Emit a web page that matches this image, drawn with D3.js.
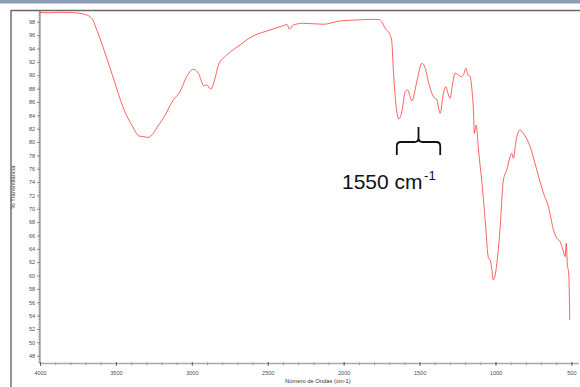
<!DOCTYPE html>
<html>
<head>
<meta charset="utf-8">
<script src="https://cdn.jsdelivr.net/npm/d3@7"></script>
<style>
  html, body { margin: 0; padding: 0; background: #fff; }
  svg { display: block; }
  .tick text { font-family: "Liberation Sans", Arial, sans-serif; }
</style>
</head>
<body>
<svg id="chart" width="580" height="387"></svg>
<script>
// FTIR spectrum: wavenumber (cm-1) and % transmittance
const wavenumbers = [4000,3934,3868,3802,3736,3704,3671,3650,3638,3583,3517,3451,3385,3352,3319,3287,3254,3223,3188,3122,3078,3034,2990,2957,2920,2902,2875,2847,2825,2770,2682,2617,2485,2397,2373,2358,2331,2265,2134,2024,1914,1804,1767,1749,1727,1694,1683,1672,1650,1635,1617,1595,1578,1551,1518,1485,1463,1442,1409,1386,1364,1343,1327,1310,1299,1284,1266,1244,1226,1211,1195,1182,1167,1156,1144,1140,1127,1112,1089,1068,1046,1035,1025,1014,1002,991,969,948,926,904,893,882,864,838,816,772,728,684,651,618,596,574,556,541,534,526,520,513,511];
const transmittance = [99.39,99.35,99.42,99.38,99.27,99.09,98.76,98.2,97.52,94.08,89.58,85.09,82.10,80.94,80.79,80.70,81.30,82.40,83.55,86.29,87.53,89.78,90.89,90.29,88.39,88.54,87.94,89.54,91.53,93.03,94.53,95.62,96.77,97.42,97.60,96.92,97.52,97.78,97.63,98.12,98.27,98.37,98.34,98.01,97.03,96.02,95.02,90.53,84.54,83.45,84.54,87.53,87.79,86.14,89.03,91.79,91.04,89.03,86.78,86.29,84.30,87.29,88.28,87.04,86.54,88.53,90.29,90.04,89.78,90.04,91.04,90.04,89.78,88.04,84.04,81.30,82.54,78.80,73.82,68.32,62.59,62.33,61.13,59.34,60.08,61.84,67.32,74.31,75.81,77.80,78.31,77.56,80.30,81.80,81.30,79.30,75.81,72.32,70.31,66.82,65.58,65.07,63.83,62.83,64.83,61.33,60.84,56.35,53.35];

const xMajor = d3.range(4000, 499, -500);
const xMinor = d3.range(4000, 499, -100);
const yMajor = d3.range(48, 99, 2);
const yMinor = d3.range(47, 99.7, 0.25);

const annotation = { from: 1650, to: 1364, label: "1550 cm", sup: "-1" };
const xTitle = "Número de Ondas (cm-1)";
const yTitle = "% Transmitancia";

const svg = d3.select("#chart");
const W = 580, H = 387;

// window chrome: top band, frame lines
svg.append("rect").attr("x", 0).attr("y", 0).attr("width", W).attr("height", 3.5).attr("fill", "#8a9cb6");
svg.append("line").attr("x1", 11).attr("x2", W).attr("y1", 10.5).attr("y2", 10.5)
  .attr("stroke", "#666").attr("stroke-width", 1.6);
svg.append("line").attr("x1", 11).attr("x2", 11).attr("y1", 10).attr("y2", H)
  .attr("stroke", "#666").attr("stroke-width", 1.4);

const x = d3.scaleLinear().domain([4000, 450]).range([40, 579]);
const y = d3.scaleLinear().domain([46.83, 99.69]).range([363.5, 10.5]);

// y axis: minor ticks then labelled major ticks
const yMinorG = svg.append("g").attr("transform", "translate(40,0)")
  .call(d3.axisLeft(y).tickValues(yMinor).tickSize(1.6).tickFormat(""));
yMinorG.select(".domain").remove();
yMinorG.selectAll("line").attr("stroke", "#777").attr("stroke-width", 0.6);

const yAxisG = svg.append("g").attr("transform", "translate(40,0)")
  .call(d3.axisLeft(y).tickValues(yMajor).tickSize(3).tickPadding(2).tickFormat(d3.format("d")));
yAxisG.select(".domain").attr("d", `M0,${y.range()[1]}V${y.range()[0]}`).attr("stroke", "#777").attr("stroke-width", 1);
yAxisG.selectAll("line").attr("stroke", "#666").attr("stroke-width", 0.7);
yAxisG.selectAll("text").attr("font-size", 5.5).attr("fill", "#4a4a5a");

// x axis
const xMinorG = svg.append("g").attr("transform", "translate(0,363.5)")
  .call(d3.axisBottom(x).tickValues(xMinor).tickSize(1.5).tickFormat(""));
xMinorG.select(".domain").remove();
xMinorG.selectAll("line").attr("stroke", "#555").attr("stroke-width", 0.8).attr("y1", -1);

const xAxisG = svg.append("g").attr("transform", "translate(0,363.5)")
  .call(d3.axisBottom(x).tickValues(xMajor).tickSize(2.5).tickPadding(5).tickFormat(d3.format("d")));
xAxisG.select(".domain").attr("d", `M${x.range()[0]},0H${x.range()[1]}`).attr("stroke", "#aaa").attr("stroke-width", 1.6);
xAxisG.selectAll("line").attr("stroke", "#555").attr("stroke-width", 0.8).attr("y1", -1.5);
xAxisG.selectAll("text").attr("font-size", 5.5).attr("fill", "#4a4a5a");

// axis titles
svg.append("text").attr("x", 285).attr("y", 383)
  .attr("font-family", "Liberation Sans, Arial, sans-serif").attr("font-size", 5.8).attr("fill", "#333")
  .text(xTitle);
svg.append("text").attr("transform", "translate(15,187) rotate(-90)").attr("text-anchor", "middle")
  .attr("font-family", "Liberation Sans, Arial, sans-serif").attr("font-size", 5.8).attr("fill", "#333")
  .text(yTitle);

// spectrum
const pts = wavenumbers.map((w, i) => [w, transmittance[i]]);
const line = d3.line().x(d => x(d[0])).y(d => y(d[1])).curve(d3.curveMonotoneX);
svg.append("path").datum(pts).attr("d", line)
  .attr("fill", "none").attr("stroke", "#ff2424").attr("stroke-width", 0.9).attr("stroke-opacity", 0.8);

// brace over the amide band
const bx0 = x(annotation.from), bx1 = x(annotation.to), bm = (bx0 + bx1) / 2;
const bTop = 127, bMid = 142, bBot = 155;
const brace = `M${bx0},${bBot} V${bMid + 4} Q${bx0},${bMid} ${bx0 + 4},${bMid} H${bm - 4} Q${bm},${bMid} ${bm},${bMid - 4} V${bTop}`
  + ` M${bm},${bMid - 4} Q${bm},${bMid} ${bm + 4},${bMid} H${bx1 - 4} Q${bx1},${bMid} ${bx1},${bMid + 4} V${bBot}`;
svg.append("path").attr("d", brace).attr("fill", "none").attr("stroke", "#111").attr("stroke-width", 1.8);

const lab = svg.append("text").attr("x", 342).attr("y", 188.5)
  .attr("font-family", "Liberation Sans, Arial, sans-serif").attr("font-size", 21).attr("fill", "#111");
lab.append("tspan").text(annotation.label);
lab.append("tspan").attr("font-size", 13).attr("dy", -9).attr("dx", 1.5).text(annotation.sup);
</script>
</body>
</html>
